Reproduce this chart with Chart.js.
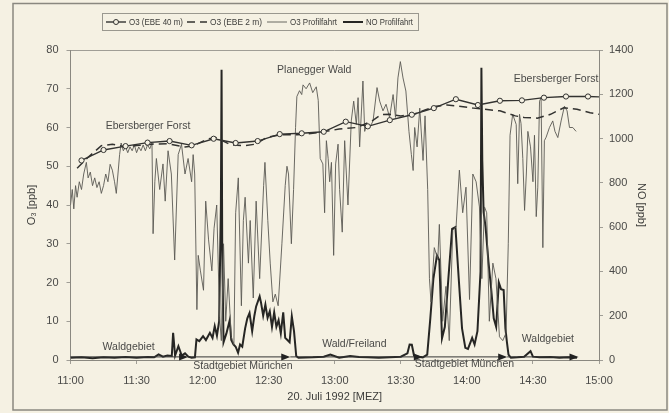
<!DOCTYPE html>
<html>
<head>
<meta charset="utf-8">
<script src="https://cdn.jsdelivr.net/npm/chart.js@4.4.1/dist/chart.umd.min.js"></script>
<style>
  html, body { margin: 0; padding: 0; background: #f5f1e3; }
  #wrap { width: 669px; height: 413px; }
</style>
</head>
<body>
<div id="wrap"><canvas id="chart" width="669" height="413"></canvas></div>
<script>
// Zeit in Minuten nach 11:00 (20. Juli 1992, MEZ)
const timeTicks = ['11:00', '11:30', '12:00', '12:30', '13:00', '13:30', '14:00', '14:30', '15:00'];

// O3 Station Ebersberg, 40 m
const ebe40Time = [5, 15, 25, 35, 45, 55, 65, 75, 85, 95, 105, 115, 125, 135, 145, 155, 165, 175, 185, 195, 205, 215, 225, 235, 240];
const ebe40O3 = [51.5, 54.2, 55.2, 56.1, 56.5, 55.4, 57.1, 56, 56.5, 58.3, 58.5, 58.9, 61.5, 60.3, 61.9, 63.3, 65, 67.3, 65.8, 66.9, 67, 67.7, 68, 68, 67.9];

// O3 Station Ebersberg, 2 m
const ebe2Time = [3, 8, 14, 19, 25, 31, 37, 44, 52, 56, 62, 66, 73, 79, 84, 89, 95, 103, 110, 116, 122, 130, 137, 141, 145, 150, 156, 161, 166, 171, 176, 183, 188, 195, 202, 206, 212, 218, 224, 230, 236, 240];
const ebe2O3 = [49.5, 52.3, 55.3, 55.7, 55, 55.4, 55.7, 55.8, 55, 55.3, 57, 57.4, 55.5, 55.3, 55.7, 57.4, 58.1, 58.1, 58.5, 59, 59.6, 60, 61.7, 63.3, 63.4, 63, 63.4, 64.5, 65.5, 65.8, 65.5, 65, 64.7, 64.3, 63, 62.6, 62.4, 63.4, 65.1, 64.7, 63.8, 63.4];

// O3 Profilfahrt
const profTime = [0, 0.8, 1.5, 2.3, 3, 4, 5, 6, 7.2, 8, 9, 10, 11, 12, 13, 14, 15, 16, 17, 18, 19, 20, 20.8, 22.3, 23, 24, 25, 26, 27, 28, 29, 30, 31, 32, 33, 34, 35, 36, 37,
  37.5, 38.3, 39, 40.5, 42, 43, 44.3, 45.8, 47.3, 48.9, 50.4, 52, 53.4, 55, 55.7, 56.4,
  57.4, 58, 59, 60.4, 61.4, 62.7, 64.2, 65.2, 66.4, 67.7, 68.5, 69.5, 70.5, 71.6, 73, 74.2, 75, 76.2, 77.6, 78.5, 79.3,
  80.8, 81.6, 83, 84.3, 85.9, 87.7, 88.3, 89.6, 90.7, 91.9, 93, 94.3, 96, 97.5, 98.3, 99, 100.3, 101.3,
  102.2, 102.8, 104, 105, 105.6, 107, 108.6, 110, 111.6, 112.5, 113.4, 114.6, 115.4, 116.2, 117, 117.7, 118.5, 119.5,
  120.4, 121.5, 122.2, 123.4, 124.5, 126, 127.5, 128.6, 129.8, 130.6, 131.3, 132.8, 133.6, 134.5, 135.9, 137.4,
  139.2, 140.4, 141.9, 143.3, 144.9, 146.5, 147.6, 148.7, 149.8, 151, 152.3, 153.7, 154.8, 155.6, 156.3, 157.4, 158.6, 160.1,
  161, 162.2, 163, 163.7, 165.2, 166.8, 167.5, 169, 170.5, 172, 173.6, 175.1, 176.6, 178.1, 179.6, 181.2, 182.7, 184.2,
  185.7, 186.8, 188, 189, 190.2, 191.8, 193.2, 194.8, 196.3, 197.8, 198.8, 199.6,
  200.8, 202.4, 203.1, 203.9, 204.6, 205.4, 206.2, 207, 207.7, 208.9, 210, 210.7, 211.5, 212.2, 213, 213.7, 214.5, 215.2,
  216, 217.5, 219, 220, 221.3, 222.8, 224.3, 225.5, 226.6, 228.1, 229.6];
const profO3 = [40, 44, 39, 45, 42, 46, 44, 48, 51, 47, 48.5, 45, 47, 44.5, 46, 43, 45, 48, 46, 50.5, 49, 46, 43, 53, 56, 54, 55, 53.5, 55, 54, 55.5, 53.5, 55, 54, 55.5, 54, 55.5, 54.5, 56,
  32.6, 46, 52, 44, 50.6, 41, 54, 48, 25.8, 53, 55.7, 48, 52, 46, 53, 48,
  13, 27, 23, 18, 41, 31, 23, 34, 40, 11, 5, 30, 10, 21, 6, 4, 38, 47, 14, 36, 42,
  25, 36, 16, 41, 21, 45, 51, 36, 25, 15, 17, 14, 30, 45, 50, 48, 30, 44,
  60, 68, 69.5, 68.5, 71, 70, 71.5, 69, 70.5, 67, 52, 50.6, 38, 56.6, 52, 46, 51, 27,
  50.6, 55.7, 44, 33, 56.6, 40, 61.7, 66.8, 60.8, 67.7, 55, 72, 59, 61, 60, 61.7,
  70.3, 66.8, 64.3, 66, 62.6, 68.5, 62.6, 72.8, 77, 72.8, 69.4, 59, 53, 48.9, 60, 55, 65, 51.5,
  63, 44, 21, 15, 29, 26, 35, 10, 19, 5, 33.5, 34.4, 49, 38, 44.6, 15.6, 48, 46,
  39.5, 21, 39.5, 38, 10, 25, 21, 6, 5, 7, 30, 58,
  63.4, 60.8, 45.5, 63.4, 61, 52, 38.6, 48, 59, 55, 46, 58, 37, 44.6, 66.8, 67.7, 29, 56.6,
  57.5, 60, 61.7, 59, 57.4, 61.7, 65.5, 64.3, 60, 60, 59];

// NO Profilfahrt
const noTime = [0, 5, 10, 15, 20, 25, 30, 35, 38, 40, 42, 44, 46, 46.6, 47.5, 49, 50.5, 52, 53.5, 55, 56.5,
  57.2, 58.5, 60.2, 61.5, 63.3, 64.5, 65.5, 66.5, 67.5, 68.3, 68.6, 68.9, 69.5, 70.8, 72.3, 73, 74, 75, 76.1, 77, 78, 79.3,
  80.3, 81.3, 82.5, 83.5, 84.3, 85.9, 86.5, 87.5, 88.5, 89.5, 90.5, 91.5, 92.5, 93.5, 94.5, 95.5, 96.6, 97.5, 98.5, 99.5, 100.5, 101.5, 102.5,
  103.5, 110, 115, 118, 122, 127, 131, 135, 140, 145, 150, 153, 154, 155, 156, 158, 160, 162,
  163.4, 164.8, 166.4, 167.5, 168.7, 170, 171.6, 173.3, 174.8, 176.3, 177.8, 179.3, 180.5, 182.4, 183.5, 184.8,
  186.2, 186.6, 187, 187.6, 188.5, 189.8, 191, 192.2, 193.3, 194.5, 195.5, 196.7, 197.5, 198.2, 198.9,
  200, 203, 206, 208.9, 210, 213, 218, 222, 226, 230];
const noPpb = [10, 12, 8, 12, 10, 14, 10, 14, 12, 25, 15, 20, 18, 123, 20, 62, 20, 30, 15, 10, 12,
  93, 85, 108, 90, 123, 100, 153, 110, 175, 700, 1311, 500, 80, 120, 180, 90, 70, 60, 33, 70, 60, 143,
  188, 212, 130, 200, 242, 287, 260, 200, 250, 190, 220, 150, 215, 150, 180, 120, 215, 100, 90, 80, 197, 130, 18,
  10, 12, 15, 25, 10, 18, 14, 12, 10, 12, 15, 30, 70, 69, 20, 15, 12, 24,
  188, 368, 472, 450, 98, 150, 368, 592, 600, 368, 143, 55, 50, 100, 70, 130,
  400, 1320, 900, 668, 600, 443, 325, 188, 150, 350, 320, 316, 143, 80, 24,
  10, 12, 15, 40, 15, 12, 14, 10, 12, 10];

// Beschriftungen im Diagramm (Zeit, O3-Wert)
const noteText = ['Ebersberger Forst', 'Planegger Wald', 'Ebersberger Forst', 'Waldgebiet', 'Stadtgebiet München', 'Wald/Freiland', 'Stadtgebiet München', 'Waldgebiet'];
const noteTime = [35.2, 110.7, 220.5, 26.4, 78.3, 128.9, 178.9, 216.8];
const noteO3 = [60.3, 74.7, 72.6, 3.4, -1.6, 4.2, -1.1, 5.4];

// Pfeile der Fahrtabschnitte (Start, Ende in Minuten)
const arrowFrom = [0, 53.4, 99.8, 160, 198.3];
const arrowTo = [53.4, 99.8, 160, 198.3, 230.7];
const arrowO3 = 0.8;

const FONT = "'Liberation Sans', Arial, sans-serif";
const BG = '#f5f1e3';

function pts(ts, vs) {
  return ts.map((t, i) => ({ x: t, y: vs[i] }));
}

// Hintergrund, Rahmen, Legende, Beschriftungen
const decoPlugin = {
  id: 'deco',
  beforeDraw(chart) {
    const c = chart.ctx;
    c.save();
    c.fillStyle = BG;
    c.fillRect(0, 0, chart.width, chart.height);
    c.strokeStyle = '#8a8880';
    c.lineWidth = 1.5;
    c.strokeRect(13, 3.5, 654, 406.5);
    const a = chart.chartArea;
    c.lineWidth = 1;
    c.strokeStyle = '#a09e96';
    c.beginPath();
    c.moveTo(a.left, a.top + 0.5);
    c.lineTo(a.right, a.top + 0.5);
    c.stroke();
    c.restore();
  },
  afterDatasetsDraw(chart) {
    const c = chart.ctx;
    const xs = chart.scales.x, ys = chart.scales.y;
    c.save();
    c.fillStyle = '#4a4a48';
    c.font = '10.5px ' + FONT;
    c.textAlign = 'center';
    c.textBaseline = 'middle';
    noteText.forEach((t, i) => {
      c.fillText(t, xs.getPixelForValue(noteTime[i]), ys.getPixelForValue(noteO3[i]));
    });
    // Pfeile
    const ay = ys.getPixelForValue(arrowO3);
    c.strokeStyle = '#333';
    c.fillStyle = '#222';
    c.lineWidth = 1;
    arrowFrom.forEach((f, i) => {
      const x0 = xs.getPixelForValue(f), x1 = xs.getPixelForValue(arrowTo[i]);
      c.beginPath();
      c.moveTo(x0, ay);
      c.lineTo(x1 - 6, ay);
      c.stroke();
      c.beginPath();
      c.moveTo(x1, ay);
      c.lineTo(x1 - 9, ay - 3.5);
      c.lineTo(x1 - 9, ay + 3.5);
      c.closePath();
      c.fill();
    });
    c.restore();
  },
  afterDraw(chart) {
    const c = chart.ctx;
    c.save();
    c.fillStyle = BG;
    c.strokeStyle = '#9a988f';
    c.lineWidth = 1;
    c.fillRect(102, 13, 316, 17);
    c.strokeRect(102.5, 13.5, 316, 17);
    c.font = '9.5px ' + FONT;
    c.textBaseline = 'middle';
    c.fillStyle = '#3c3c3a';
    const y = 22;
    const items = chart.data.datasets;
    const sx = [106, 187, 267, 343];
    const tw = [54, 52, 47, 47];
    items.forEach((ds, i) => {
      const x = sx[i];
      c.strokeStyle = ds.borderColor;
      c.lineWidth = ds.borderWidth;
      c.setLineDash(ds.borderDash || []);
      c.beginPath();
      c.moveTo(x, y);
      c.lineTo(x + 20, y);
      c.stroke();
      c.setLineDash([]);
      if (ds.pointRadius) {
        c.fillStyle = BG;
        c.lineWidth = 1;
        c.beginPath();
        c.arc(x + 10, y, 2.5, 0, Math.PI * 2);
        c.fill();
        c.stroke();
        c.fillStyle = '#3c3c3a';
      }
      c.fillText(ds.label, x + 23, y, tw[i]);
    });
    c.restore();
  }
};

const ctx = document.getElementById('chart').getContext('2d');
const tickFont = { family: FONT, size: 11 };

new Chart(ctx, {
  type: 'line',
  data: {
    datasets: [
      {
        label: 'O3 (EBE 40 m)',
        data: pts(ebe40Time, ebe40O3),
        yAxisID: 'y',
        borderColor: '#333331',
        borderWidth: 1.4,
        pointRadius: (c) => (c.dataIndex < ebe40Time.length - 1 ? 2.6 : 0),
        pointBackgroundColor: BG,
        pointBorderColor: '#333331',
        pointBorderWidth: 1,
        tension: 0
      },
      {
        label: 'O3 (EBE 2 m)',
        data: pts(ebe2Time, ebe2O3),
        yAxisID: 'y',
        borderColor: '#333331',
        borderWidth: 1.5,
        borderDash: [8, 5],
        pointRadius: 0
      },
      {
        label: 'O3 Profilfahrt',
        data: pts(profTime, profO3),
        yAxisID: 'y',
        borderColor: '#5a5954',
        borderWidth: 0.9,
        pointRadius: 0
      },
      {
        label: 'NO Profilfahrt',
        data: pts(noTime, noPpb),
        yAxisID: 'y1',
        borderColor: '#262624',
        borderWidth: 2,
        pointRadius: 0
      }
    ]
  },
  options: {
    responsive: false,
    animation: false,
    events: [],
    layout: { padding: { left: 14, right: 2, top: 50, bottom: 3 } },
    plugins: { legend: { display: false }, tooltip: { enabled: false } },
    scales: {
      x: {
        type: 'linear',
        min: 0,
        max: 240,
        afterFit: (s) => { s.height = 50; },
        ticks: {
          stepSize: 30,
          autoSkip: false,
          maxRotation: 0,
          padding: 10,
          color: '#4a4a48',
          font: tickFont,
          callback: (v) => timeTicks[v / 30]
        },
        grid: { drawOnChartArea: false, tickLength: 4, color: '#a09e96' },
        border: { color: '#8a8880', width: 1 },
        title: { display: true, text: '20. Juli 1992 [MEZ]', color: '#3c3c3a', font: tickFont, padding: { bottom: 6 } }
      },
      y: {
        position: 'left',
        min: 0,
        max: 80,
        afterFit: (s) => { s.width = 56.5; },
        ticks: { stepSize: 10, padding: 8, color: '#4a4a48', font: tickFont },
        grid: { drawOnChartArea: false, tickLength: 4, color: '#a09e96' },
        border: { color: '#8a8880', width: 1 },
        title: { display: true, text: 'O₃ [ppb]', color: '#3c3c3a', font: tickFont, padding: { top: 11 } }
      },
      y1: {
        position: 'right',
        min: 0,
        max: 1400,
        afterFit: (s) => { s.width = 68; },
        ticks: { stepSize: 200, padding: 6, color: '#4a4a48', font: tickFont, callback: (v) => String(v) },
        grid: { drawOnChartArea: false, tickLength: 4, color: '#a09e96' },
        border: { color: '#8a8880', width: 1 },
        title: { display: true, text: 'NO [ppb]', color: '#3c3c3a', font: tickFont, padding: { top: 19 } }
      }
    }
  },
  plugins: [decoPlugin]
});
</script>
</body>
</html>
